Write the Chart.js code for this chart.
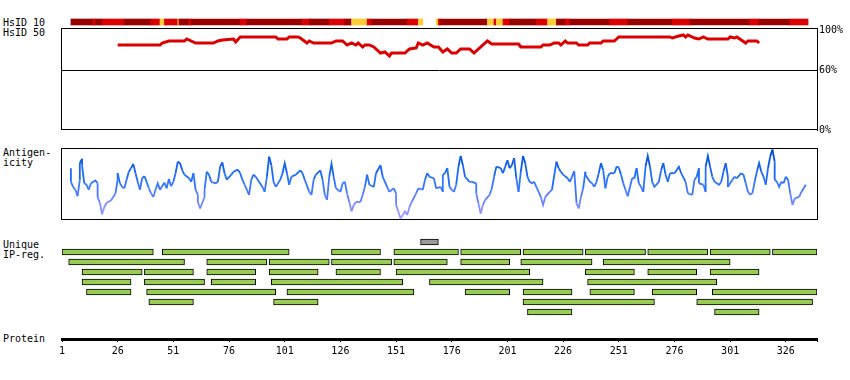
<!DOCTYPE html>
<html><head><meta charset="utf-8">
<script src="https://cdn.jsdelivr.net/npm/chart.js@4/dist/chart.umd.min.js"></script>
<style>
body{margin:0;background:#fff;width:850px;height:380px;position:relative;overflow:hidden;font-family:"DejaVu Sans Mono",monospace;font-size:10px;color:#000;}
.lbl{position:absolute;left:3px;line-height:10px;white-space:pre;}
canvas{position:absolute;left:0;}
</style></head><body>
<div class="lbl" style="top:18px">HsID 10</div>
<div class="lbl" style="top:28px">HsID 50</div>
<div class="lbl" style="top:148px">Antigen-
icity</div>
<div class="lbl" style="top:240px">Unique
IP-reg.</div>
<div class="lbl" style="top:334px">Protein</div>
<canvas id="c1" width="850" height="16" style="top:14px"></canvas>
<canvas id="c2" width="850" height="120" style="top:20px"></canvas>
<canvas id="c3" width="850" height="90" style="top:140px"></canvas>
<canvas id="c4" width="850" height="80" style="top:237px"></canvas>
<canvas id="c5" width="850" height="45" style="top:325px"></canvas>
<script>
// ---------- data ----------
const residueMin = 1;
const proteinLength = 340;

// HsID 10 identity segments: level 0 = dark red, 1 = red, 2 = yellow
const hsid10Start = [5,15,16,19,29,41,45,47,53,53.5,58,59,81,84,109,112,121,128,131,138,140,156,161,169,170,171,192,195,196,199,202,214,219,223,227,229,247,255,275,283,310,314,328];
const hsid10End   = [15,16,19,29,41,45,47,53,53.5,58,59,81,84,109,112,121,128,131,138,140,156,161,163,170,171,192,195,196,199,202,214,219,223,227,229,247,255,275,283,310,314,328,336];
const hsid10Level = [0,1,0,1,0,1,2,1,2,0,1,0,1,0,1,0,1,0,2,1,0,1,2,2,1,0,2,1,2,1,0,1,2,0,1,0,1,0,1,0,1,0,1];

// HsID 50 (%)
const hsid50Pos = [26,45,46,49,56,57,61,69,71,73,78,79,81,97,98,102,103,107,108,111,112,114,122,124,127,129,131,133,134,136,137,139,141,144,146,148,149,155,157,160,161,163,165,168,170,172,174,176,178,180,184,186,192,194,206,207,216,217,220,222,224,225,227,228,232,233,237,238,243,244,249,251,274,275,278,280,281,282,285,287,289,291,300,301,303,304,308,309,313,314];
const hsid50Val = [85,85,87,89,89,91,87,87,89,90,91,88,93,93,91,91,93,93,92,87,89,87,87,89,89,85,87,85,87,83,85,85,83,77,78,74,77,77,81,82,87,85,87,83,83,78,81,77,77,81,81,77,89,86,86,83,83,85,85,87,87,85,89,87,87,85,85,87,87,89,89,93,93,92,94,95,93,95,92,91,93,91,91,93,92,93,87,89,89,87];
const hsid50Ticks = [0,60,100];
const hsid50AxisTop = 102;

// Antigenicity (relative score 0-100)
const antiPos = [5,5,6,7,8,9,9,10,10,11,12,13,14,16,17,17,18,19,20,21,23,24,25,26,26,27,28,29,30,31,32,33,34,35,36,37,38,39,40,41,42,43,44,45,47,48,49,50,51,52,53,54,55,56,58,59,60,61,62,62,63,65,65,66,67,68,70,71,72,73,74,75,77,78,80,81,82,83,85,86,87,88,91,92,93,94,95,96,97,99,
100,101,102,103,104,106,108,109,110,112,113,114,115,117,118,119,120,121,122,123,124,126,127,128,129,130,131,132,133,135,136,137,138,139,141,142,144,145,147,148,150,151,151,152,153,154,155,156,157,158,160,161,163,164,165,166,168,169,171,172,172,173,174,175,176,177,178,179,180,181,182,184,185,187,187,188,189,190,191,193,194,195,196,198,199,200,201,202,203,204,205,206,207,208,209,210,211,212,213,214,216,217,218,220,221,223,224,
225,226,228,229,230,231,232,232,233,234,235,236,236,238,239,240,241,242,243,244,245,246,247,249,250,251,252,253,254,255,257,258,259,260,261,262,263,264,265,266,267,269,270,271,272,273,274,276,278,279,281,282,284,285,286,287,287,289,290,290,291,292,293,294,296,297,298,299,300,300,302,303,304,306,307,308,309,310,311,312,313,314,315,316,317,318,319,320,321,321,322,323,324,325,326,327,328,329,330,332,333,335];
const antiVal = [72,53,46,42,33,56,79,85,76,51,49,42,51,55,51,32,24,8,18,24,27,32,37,56,65,51,46,44,56,67,72,78,65,53,42,58,61,53,44,37,32,42,51,42,52,44,57,47,53,65,81,79,69,63,58,53,65,42,35,25,16,32,42,67,63,53,51,53,74,80,65,56,63,67,70,65,56,49,35,56,63,60,46,39,60,88,76,53,46,56,
65,79,65,49,60,63,69,65,56,39,35,56,63,69,56,35,28,60,78,60,44,39,51,53,37,25,12,21,25,25,35,46,63,49,46,65,76,60,46,39,44,37,21,12,2,7,12,7,18,25,37,44,42,56,65,60,58,44,46,39,63,65,72,46,42,39,49,74,89,76,60,53,53,51,37,23,9,21,28,35,44,60,74,72,65,74,83,72,76,86,58,39,67,89,79,60,53,51,53,46,32,21,32,39,42,81,72,
67,63,58,53,60,68,25,23,16,32,44,67,63,53,51,46,53,65,79,69,44,60,65,65,74,73,63,51,42,33,58,58,72,51,46,39,74,89,74,53,46,53,69,79,63,53,65,65,74,65,53,37,35,56,60,72,51,49,39,74,89,74,60,53,49,53,67,79,60,46,56,60,58,65,63,51,39,35,37,53,67,79,67,60,49,72,88,98,81,56,53,46,53,51,60,56,37,21,30,32,39,49];

// Unique IP regions (row 0 = highlighted region)
const ipRowNames = ['sel','1','2','3','4','5','6','7'];
const ipRow   = [0, 1,1,1,1,1,1,1,1,1,1, 2,2,2,2,2,2,2,2, 3,3,3,3,3,3,3,3,3, 4,4,4,4,4,4, 5,5,5,5,5,5,5,5, 6,6,6,6, 7,7];
const ipStart = [162, 1,46,122,150,180,208,236,264,292,320, 4,66,94,122,150,180,207,244, 10,38,66,94,124,151,236,264,292, 10,38,68,95,166,237, 12,39,102,182,208,238,266,293, 40,96,208,286, 210,294];
const ipEnd   = [170, 42,103,144,179,207,235,263,291,319,340, 56,93,121,149,174,202,239,301, 37,60,88,116,144,211,258,286,314, 32,65,88,154,217,295, 32,97,159,202,230,258,286,340, 60,116,267,338, 230,314];

// Protein axis tick labels
const proteinTicks = [1,26,51,76,101,126,151,176,201,226,251,276,301,326];

// ---------- styling helpers ----------
const FONT = "'DejaVu Sans Mono', monospace";
Chart.defaults.font.family = FONT;
Chart.defaults.font.size = 10;
Chart.defaults.color = '#000';
const hsid10Colors = ['#990000','#dd0000','#ffcc33'];
const common = {responsive:false, animation:false, events:[], maintainAspectRatio:false};
const noPlugins = {legend:{display:false}, tooltip:{enabled:false}};
const xScale = () => ({type:'linear', min:residueMin, max:proteinLength, display:false});
const pad = (t,b,r) => ({left:62, right:(r===undefined?33:r), top:t, bottom:b});

const boxPlugin = {
  id:'box',
  beforeDatasetsDraw(chart){
    const a = chart.chartArea, ctx = chart.ctx;
    ctx.save();
    ctx.strokeStyle = '#000'; ctx.lineWidth = 1;
    ctx.strokeRect(Math.round(a.left)-0.5, Math.round(a.top)+0.5, Math.round(a.right-a.left)+1, Math.round(a.bottom-a.top)-1);
    ctx.restore();
  }
};

function antiColor(v){
  const stops = [[0,[170,160,255]],[30,[100,130,255]],[55,[40,115,255]],[80,[10,90,230]],[100,[0,64,180]]];
  for(let i=1;i<stops.length;i++){
    if(v<=stops[i][0]){
      const [a0,c0]=stops[i-1],[a1,c1]=stops[i];
      const t=(v-a0)/(a1-a0);
      return 'rgb('+c0.map((c,k)=>Math.round(c+(c1[k]-c)*t)).join(',')+')';
    }
  }
  return 'rgb(0,64,180)';
}

// ---------- HsID 10 ----------
new Chart(document.getElementById('c1'), {
  type:'bar',
  data:{labels:['HsID 10'], datasets:[{
    data: hsid10Start.map((s,i)=>({x:[s, hsid10End[i]], y:'HsID 10'})),
    backgroundColor: hsid10Level.map(l=>hsid10Colors[l]),
    borderWidth:0, barThickness:6
  }]},
  options:{...common, indexAxis:'y', layout:{padding:pad(0,0)}, plugins:noPlugins,
    scales:{x:xScale(), y:{display:false}}}
});

// ---------- HsID 50 ----------
new Chart(document.getElementById('c2'), {
  type:'line',
  data:{datasets:[{
    data: hsid50Pos.map((p,i)=>({x:p, y:hsid50Val[i]})),
    borderColor:'#dd0000', borderWidth:3, pointRadius:0, tension:0, fill:false
  }]},
  options:{...common, layout:{padding:pad(8,10,0)}, plugins:noPlugins,
    scales:{
      x:xScale(),
      y:{position:'right', min:0, max:hsid50AxisTop,
         afterBuildTicks:s=>{s.ticks = hsid50Ticks.map(v=>({value:v}));},
         afterFit:s=>{s.width = 33;},
         ticks:{callback:v=>v+'%', color:'#000', padding:2, font:{family:FONT,size:10}},
         grid:{color:c=> (c.tick && c.tick.value===60) ? '#000' : 'rgba(0,0,0,0)', lineWidth:1, drawTicks:false},
         border:{display:true, color:'#000', width:1}}
    }},
  plugins:[boxPlugin]
});

// ---------- Antigenicity ----------
new Chart(document.getElementById('c3'), {
  type:'line',
  data:{datasets:[{
    data: antiPos.map((p,i)=>({x:p, y:antiVal[i]})),
    borderColor:'#2070ff', borderWidth:1.8, pointRadius:0, tension:0, fill:false,
    segment:{borderColor: c => antiColor((c.p0.parsed.y + c.p1.parsed.y)/2)}
  }]},
  options:{...common, layout:{padding:pad(8,10)}, plugins:noPlugins,
    scales:{x:xScale(), y:{display:false, min:0, max:100}}},
  plugins:[boxPlugin]
});

// ---------- Unique IP regions ----------
new Chart(document.getElementById('c4'), {
  type:'bar',
  data:{labels:ipRowNames, datasets:[{
    data: ipRow.map((r,i)=>({x:[ipStart[i], ipEnd[i]], y:ipRowNames[r]})),
    backgroundColor: ipRow.map(r=> r===0 ? '#999999' : '#99cc55'),
    borderColor:'#000', borderWidth:1, borderSkipped:false, barThickness:6
  }]},
  options:{...common, indexAxis:'y', layout:{padding:pad(0,0)}, plugins:noPlugins,
    scales:{x:xScale(), y:{display:false}}}
});

// ---------- Protein axis ----------
new Chart(document.getElementById('c5'), {
  type:'line',
  data:{datasets:[]},
  options:{...common, layout:{padding:pad(0,0)}, plugins:noPlugins,
    scales:{
      x:{type:'linear', min:residueMin, max:proteinLength, position:'bottom',
         afterBuildTicks:s=>{s.ticks = proteinTicks.concat([proteinLength]).map(v=>({value:v}));},
         afterFit:s=>{s.height = 31;},
         ticks:{autoSkip:false, maxRotation:0, padding:3, color:'#000', font:{family:FONT,size:10},
                callback:v=> proteinTicks.includes(v) ? String(v) : ''},
         grid:{drawOnChartArea:false, drawTicks:true, tickLength:3, color:'#000', lineWidth:1},
         border:{display:true, color:'#000', width:3}},
      y:{display:false}
    }}
});
</script>
</body></html>
